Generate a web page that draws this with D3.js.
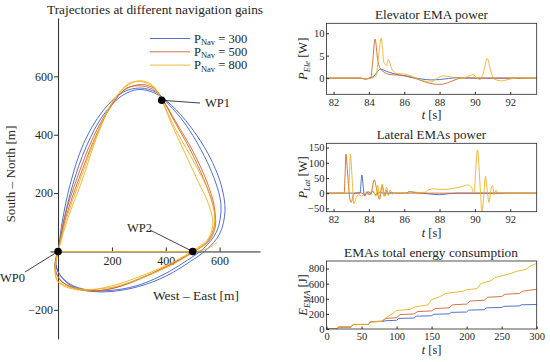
<!DOCTYPE html>
<html>
<head>
<meta charset="utf-8">
<script src="https://d3js.org/d3.v7.min.js"></script>
<style>
  body { margin: 0; background: #fff; }
  text { font-family: "Liberation Serif", "DejaVu Serif", serif; fill: #262626; }
  .ax path, .ax line { stroke: #262626; }
  .ax text { font-family: "Liberation Serif", "DejaVu Serif", serif; }
</style>
</head>
<body>
<svg id="chart" width="550" height="362"></svg>
<script>
// ---- trajectories (m, east / north) ----
var waypoints = [
  {name: "WP0", x: 0, y: 0},
  {name: "WP1", x: 385, y: 518},
  {name: "WP2", x: 500, y: 0}
];
var gains = ["300", "500", "800"];
var colors = ["#3f62c4", "#d2642a", "#EDB120"];

var blueLaps = [
  [[0,0],[20,100],[55,230],[105,360],[170,470],[240,535],[300,555],[360,542],[420,502],[490,430],[560,330],[605,230],[620,140],[600,60],[550,5],[490,-35],[400,-85],[300,-120],[200,-137],[120,-136],[50,-118],[5,-78],[-8,-35]],
  [[0,0],[15,100],[45,230],[95,370],[165,480],[240,545],[305,560],[365,545],[410,505],[470,440],[530,350],[580,250],[605,160],[590,70],[540,10],[480,-30],[390,-80],[290,-118],[190,-134],[110,-132],[45,-112],[3,-75],[-10,-35]]
];
var orangeLaps = [
  [[0,0],[25,120],[70,250],[130,390],[190,490],[250,555],[310,572],[360,557],[392,515],[430,450],[490,350],[540,250],[575,160],[585,90],[560,35],[510,3],[440,-35],[340,-80],[220,-122],[130,-135],[60,-125],[10,-100],[-10,-60],[-8,-20]],
  [[0,0],[30,120],[78,250],[135,385],[195,495],[255,560],[312,567],[362,550],[395,510],[440,440],[500,345],[550,245],[580,155],[580,85],[555,35],[505,0],[430,-38],[330,-82],[215,-124],[125,-136],[55,-124],[8,-98],[-12,-58],[-6,-20]]
];
var yellowLaps = [
  [[0,0],[30,110],[80,240],[140,390],[200,510],[260,570],[305,585],[350,570],[385,518],[420,440],[470,340],[520,240],[560,160],[575,95],[555,40],[505,5],[430,-35],[320,-80],[200,-118],[100,-133],[40,-125],[0,-105],[-10,-65],[-5,-25]],
  [[0,0],[35,110],[88,240],[145,395],[205,515],[262,575],[308,582],[352,565],[388,512],[430,430],[490,330],[545,235],[575,160],[582,95],[560,38],[508,2],[435,-40],[325,-85],[205,-122],[95,-130],[35,-120],[-3,-100],[-12,-62],[-6,-22]]
];
var yellowFirstLeg = [[0,0],[250,0],[500,0],[555,10],[590,30]];

// ---- elevator EMA power [W] vs t [s] ----
var elevBlue = [[81.6,0],[83.5,0],[83.8,-0.2],[84.0,0],[84.3,0.5],[84.5,1.5],[84.65,2.0],[85.0,1.5],[85.5,0.9],[86.0,0.5],[86.5,0.1],[87.0,-0.2],[87.5,-0.4],[88.0,-0.3],[88.5,-0.1],[89.0,0.1],[89.5,0],[93.5,0]];
var elevOrange = [[81.6,0],[83.5,0],[83.8,-0.2],[84.1,0],[84.2,3],[84.35,8.7],[84.5,4],[84.6,2.5],[84.8,1.5],[85.2,0.8],[85.6,0.7],[86,0.6],[86.5,0.1],[87,-0.6],[87.5,-1.2],[88,-1.4],[88.5,-1.0],[89,-0.2],[89.5,0.1],[90,0],[93.5,0]];
var elevYellow = [[81.6,0],[83.5,0],[84.0,-0.1],[84.4,0.5],[84.55,5],[84.7,8.9],[84.85,3.5],[85.0,2.8],[85.1,4.2],[85.3,2.0],[85.6,1.0],[86.0,0.9],[86.5,0.3],[87.0,-0.5],[87.5,-0.9],[87.8,-0.2],[88.2,0.5],[88.6,0.3],[89.0,0],[89.5,0.2],[89.9,0.8],[90.1,0],[90.3,-0.3],[90.5,1.5],[90.7,4.4],[90.9,1.5],[91.1,-0.2],[91.5,-0.6],[92,-0.2],[92.5,0.1],[93,0],[93.5,0]];

// ---- lateral EMAs power [W] vs t [s] ----
var latBlue = [[81.6,0],[83.5,0],[83.55,30],[83.6,60],[83.7,10],[83.75,-10],[83.9,5],[84.0,-5],[84.2,5],[84.4,-5],[84.6,3],[84.8,0],[86.1,0],[86.3,5],[86.6,2],[87,0],[87.5,-3],[88,-5],[88.5,-2],[89,0],[93.5,0]];
var latOrange = [[81.6,0],[82.6,0],[82.65,60],[82.7,128],[82.8,60],[82.9,-10],[83.0,-30],[83.1,-10],[83.2,0],[83.5,2],[83.8,-5],[84.0,5],[84.1,-5],[84.3,44],[84.45,10],[84.6,-20],[84.75,25],[84.9,-10],[85.0,10],[85.1,-5],[85.2,3],[85.4,0],[93.5,0]];
var latYellow = [[81.6,0],[82.85,0],[82.9,60],[82.95,128],[83.05,50],[83.15,-35],[83.25,-20],[83.4,-5],[83.6,-10],[83.8,0],[84.0,-5],[84.2,10],[84.4,-10],[84.5,25],[84.6,-15],[84.75,30],[84.85,-10],[85.0,20],[85.1,-8],[85.2,10],[85.35,-3],[85.5,0],[86.2,0],[86.4,5],[86.8,2],[87.2,3],[87.4,12],[87.7,14],[88.2,12],[88.8,16],[89.3,22],[89.6,27],[89.8,20],[89.95,0],[90.05,80],[90.15,142],[90.3,20],[90.4,-60],[90.5,-10],[90.6,55],[90.7,10],[90.8,-30],[90.9,10],[91.0,25],[91.1,-5],[91.2,10],[91.35,-3],[91.5,2],[91.7,0],[93.5,0]];

// ---- total energy [J] vs t [s] ----
var energyBlue = [[0,0],[15,0],[17,25],[35,25],[38,60],[60,60],[63,95],[80,100],[85,110],[100,115],[103,140],[125,145],[128,170],[150,175],[153,195],[175,200],[178,220],[200,225],[203,250],[225,255],[228,280],[250,285],[253,300],[275,305],[278,320],[300,325]];
var energyOrange = [[0,0],[15,0],[17,25],[35,25],[38,60],[60,60],[63,95],[80,105],[85,140],[100,150],[105,190],[125,200],[130,230],[150,240],[155,270],[175,280],[180,320],[200,330],[205,370],[225,380],[230,420],[250,430],[255,460],[275,470],[280,500],[295,520],[300,525]];
var energyYellow = [[0,0],[15,0],[17,25],[35,25],[38,60],[60,60],[63,95],[78,100],[85,150],[95,210],[100,245],[120,260],[125,290],[145,320],[150,390],[160,420],[170,470],[195,500],[200,520],[215,535],[220,600],[235,640],[240,680],[265,740],[270,760],[285,790],[290,830],[300,867]];

var svg = d3.select("#chart");
var serif = '"Liberation Serif", "DejaVu Serif", serif';

function styleTicks(g, size) {
  g.attr("font-family", serif);
  g.selectAll("text").style("font-size", size).style("font-family", serif).style("fill", "#262626");
}

// ================= left: trajectories =================
var x = d3.scaleLinear().domain([-30, 750]).range([50, 260]);
var y = d3.scaleLinear().domain([-300, 800]).range([339, 18]);

svg.append("text").attr("x", 47).attr("y", 14).attr("textLength", 216).attr("lengthAdjust", "spacingAndGlyphs")
  .style("font-size", "13.3px").text("Trajectories at different navigation gains");

svg.append("g").attr("class", "ax").attr("transform", "translate(0," + y(0) + ")")
  .call(d3.axisBottom(x).tickValues([200, 400, 600]).tickSize(-4).tickSizeOuter(0).tickPadding(5))
  .call(styleTicks, "12px");
svg.append("g").attr("class", "ax").attr("transform", "translate(" + x(0) + ",0)")
  .call(d3.axisLeft(y).tickValues([-200, 200, 400, 600]).tickSize(4).tickSizeOuter(0).tickPadding(1))
  .call(styleTicks, "12px");

var trajLine = d3.line().x(function(d){ return x(d[0]); }).y(function(d){ return y(d[1]); })
  .curve(d3.curveCatmullRomClosed.alpha(0.5));
[blueLaps, orangeLaps, yellowLaps].forEach(function(laps, i) {
  svg.append("g").selectAll("path").data(laps).enter().append("path")
    .attr("d", trajLine).attr("fill", "none").attr("stroke", colors[i]).attr("stroke-width", 0.9);
});
svg.append("path").datum(yellowFirstLeg)
  .attr("d", d3.line().x(function(d){ return x(d[0]); }).y(function(d){ return y(d[1]); }).curve(d3.curveMonotoneX))
  .attr("fill", "none").attr("stroke", colors[2]).attr("stroke-width", 0.9);

// waypoint callouts
var callout = {WP0: [25, 272, 0, 282], WP1: [200, 103, 205, 107], WP2: [150, 230, 127, 232]};
waypoints.forEach(function(w) {
  var c = callout[w.name];
  svg.append("line").attr("x1", x(w.x)).attr("y1", y(w.y)).attr("x2", c[0]).attr("y2", c[1])
    .attr("stroke", "#111").attr("stroke-width", 0.8);
  svg.append("circle").attr("cx", x(w.x)).attr("cy", y(w.y)).attr("r", 3.8).attr("fill", "#000");
  svg.append("text").attr("x", c[2]).attr("y", c[3]).style("font-size", "12.5px").text(w.name);
});

svg.append("text").attr("transform", "translate(15,174) rotate(-90)").attr("text-anchor", "middle")
  .attr("textLength", 97).attr("lengthAdjust", "spacingAndGlyphs")
  .style("font-size", "13px").text("South \u2013 North [m]");
svg.append("text").attr("x", 196).attr("y", 300).attr("text-anchor", "middle")
  .attr("textLength", 86).attr("lengthAdjust", "spacingAndGlyphs")
  .style("font-size", "13px").text("West \u2013 East [m]");

// legend
gains.forEach(function(g, i) {
  var ly = 38.5 + i * 13.3;
  svg.append("line").attr("x1", 150).attr("x2", 190).attr("y1", ly).attr("y2", ly)
    .attr("stroke", colors[i]).attr("stroke-width", 0.9);
  var t = svg.append("text").attr("x", 194).attr("y", ly + 4).style("font-size", "12.5px");
  t.append("tspan").text("P");
  t.append("tspan").attr("dy", 2.5).style("font-size", "8.5px").text("Nav");
  t.append("tspan").attr("dy", -2.5).text(" = " + g);
});

// ================= right: EMA panels =================
var px = [326.5, 536.7];
var panels = [
  {title: "Elevator EMA power", tx: [375, 113], xd: [81.6, 93.5], yd: [-3.6, 12.2], top: 23.3, bottom: 94.3,
   xt: [82, 84, 86, 88, 90, 92], yt: [0, 5, 10], lab: ["P", "Ele", " [W]"],
   series: [elevBlue, elevOrange, elevYellow]},
  {title: "Lateral EMAs power", tx: [376.7, 109.3], xd: [81.6, 93.5], yd: [-61, 164], top: 143.3, bottom: 211.7,
   xt: [82, 84, 86, 88, 90, 92], yt: [-50, 0, 50, 100, 150], lab: ["P", "Lat", " [W]"],
   series: [latBlue, latOrange, latYellow]},
  {title: "EMAs total energy consumption", tx: [344, 174], xd: [0, 300], yd: [0, 900], top: 261, bottom: 329,
   xt: [0, 50, 100, 150, 200, 250, 300], yt: [0, 200, 400, 600, 800], lab: ["E", "EMA", " [J]"],
   series: [energyBlue, energyOrange, energyYellow]}
];

panels.forEach(function(p, k) {
  var sx = d3.scaleLinear().domain(p.xd).range(px);
  var sy = d3.scaleLinear().domain(p.yd).range([p.bottom, p.top]);
  var g = svg.append("g");
  var clipId = "clip" + k;
  g.append("clipPath").attr("id", clipId).append("rect")
    .attr("x", px[0]).attr("y", p.top).attr("width", px[1] - px[0]).attr("height", p.bottom - p.top);

  var ln = d3.line().x(function(d){ return sx(d[0]); }).y(function(d){ return sy(d[1]); });
  if (k < 2) ln.curve(d3.curveMonotoneX);
  p.series.forEach(function(s, i) {
    g.append("path").datum(s).attr("d", ln).attr("clip-path", "url(#" + clipId + ")")
      .attr("fill", "none").attr("stroke", colors[i]).attr("stroke-width", 0.9);
  });

  g.append("g").attr("class", "ax").attr("transform", "translate(0," + p.bottom + ")")
    .call(d3.axisBottom(sx).tickValues(p.xt).tickSize(-2.5).tickSizeOuter(0).tickPadding(4))
    .call(function(a){ a.select(".domain").remove(); }).call(styleTicks, "10.5px");
  g.append("g").attr("class", "ax").attr("transform", "translate(" + px[0] + ",0)")
    .call(d3.axisLeft(sy).tickValues(p.yt).tickSize(-2.5).tickSizeOuter(0).tickPadding(2))
    .call(function(a){ a.select(".domain").remove(); }).call(styleTicks, "10.5px");
  g.append("rect").attr("x", px[0]).attr("y", p.top).attr("width", px[1] - px[0]).attr("height", p.bottom - p.top)
    .attr("fill", "none").attr("stroke", "#262626").attr("stroke-width", 0.8);

  g.append("text").attr("x", p.tx[0]).attr("y", p.top - 4).attr("textLength", p.tx[1])
    .attr("lengthAdjust", "spacingAndGlyphs").style("font-size", "13.5px").text(p.title);
  var tl = g.append("text").attr("x", (px[0] + px[1]) / 2).attr("y", p.bottom + 25).attr("text-anchor", "middle")
    .style("font-size", "12.5px");
  tl.append("tspan").style("font-style", "italic").text("t");
  tl.append("tspan").text(" [s]");

  var yl = g.append("text").attr("transform", "translate(" + 307 + "," + ((p.top + p.bottom) / 2) + ") rotate(-90)")
    .attr("text-anchor", "middle").style("font-size", "12.5px");
  yl.append("tspan").style("font-style", "italic").text(p.lab[0]);
  yl.append("tspan").attr("dy", 2.5).style("font-style", "italic").style("font-size", "8.5px").text(p.lab[1]);
  yl.append("tspan").attr("dy", -2.5).text(p.lab[2]);
});
</script>
</body>
</html>
